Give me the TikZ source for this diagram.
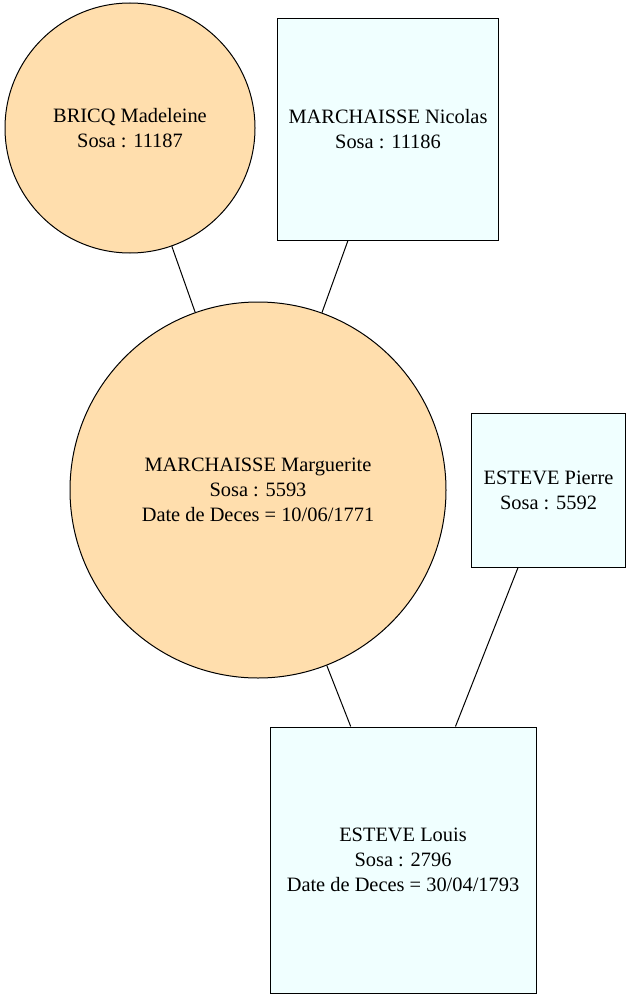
\documentclass[tikz,border=0pt]{standalone}
\usepackage{fontspec}
\setmainfont{Liberation Serif}
\begin{document}
\begin{tikzpicture}[x=0.75pt,y=-0.75pt,line width=0.75pt,
    every node/.style={align=center,font=\fontsize{15.3}{18.75}\selectfont,inner sep=0pt},
    femme/.style={circle,draw,fill=femcolor},
    homme/.style={rectangle,draw,fill=homcolor}]
            \definecolor{femcolor}{RGB}{255,222,173}
            \definecolor{homcolor}{RGB}{240,255,255}
            \useasboundingbox (0,0) rectangle (631,999);
            % parents
            \node[femme,minimum size=187.5pt] (bricq) at (130,128) {BRICQ Madeleine\\Sosa : 11187};
            \node[homme,minimum width=165.75pt,minimum height=165.75pt] (nicolas) at (388,129.5) {MARCHAISSE Nicolas\\Sosa : 11186};
            \node[femme,minimum size=282pt] (marguerite) at (258,490) {MARCHAISSE Marguerite\\Sosa : 5593\\Date de Deces = 10/06/1771};
            \node[homme,minimum width=115.5pt,minimum height=115.5pt] (pierre) at (548.5,490) {ESTEVE Pierre\\Sosa : 5592};
            \node[homme,minimum width=199.5pt,minimum height=199.5pt] (louis) at (403,860) {ESTEVE Louis\\Sosa : 2796\\Date de Deces = 30/04/1793};
            % links
            \draw (bricq) -- (marguerite);
            \draw (nicolas) -- (marguerite);
            \draw (marguerite) -- (louis);
            \draw (pierre) -- (louis);
        \end{tikzpicture}
\end{document}
